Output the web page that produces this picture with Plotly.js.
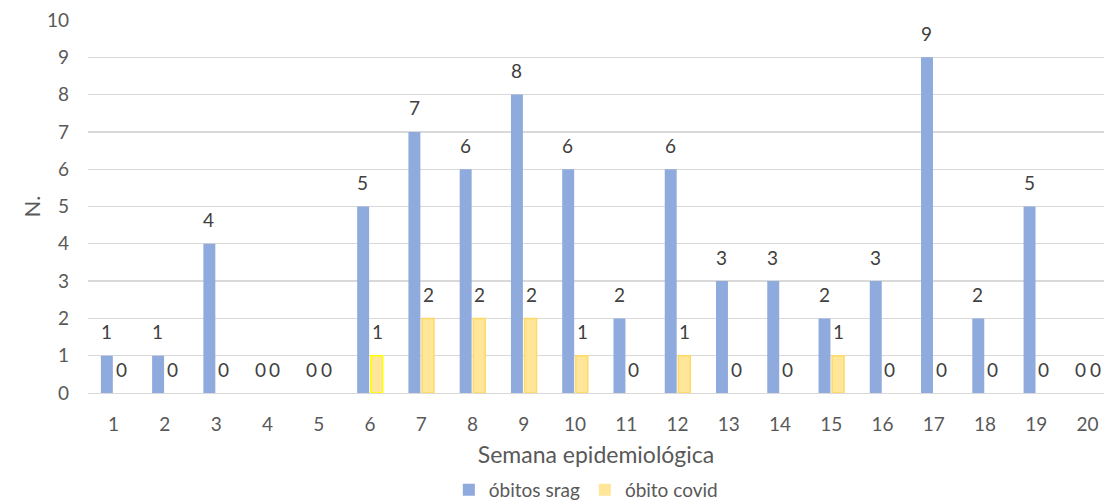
<!DOCTYPE html>
<html>
<head>
<meta charset="utf-8">
<script src="https://cdn.plot.ly/plotly-3.0.1.min.js"></script>
<style>html,body{margin:0;padding:0;background:#fff;}#chart{width:1104px;height:504px;}</style>
</head>
<body>
<div id="chart"></div>
<script>
var semanas = ['1','2','3','4','5','6','7','8','9','10','11','12','13','14','15','16','17','18','19','20'];
var obitosSrag = [1,1,4,0,0,5,7,6,8,6,2,6,3,3,2,3,9,2,5,0];
var obitoCovid = [0,0,0,0,0,1,2,2,2,1,0,1,0,0,1,0,0,0,0,0];
var yTicks = [0,1,2,3,4,5,6,7,8,9,10];

var FONT = 'Lato, Open Sans, sans-serif';
var covidBorder = obitoCovid.map(function(v, i){ return i === 5 ? '#FFFF00' : '#FFD966'; });
var covidBorderW = obitoCovid.map(function(v){ return v > 0 ? 1.5 : 0; });

var traces = [
  {
    type: 'bar', name: 'óbitos srag', x: semanas, y: obitosSrag,
    marker: {color: '#8FAADC', line: {width: 0}},
    hoverinfo: 'x+y'
  },
  {
    type: 'bar', name: 'óbito covid', x: semanas, y: obitoCovid,
    marker: {color: '#FFE699', line: {width: covidBorderW, color: covidBorder}},
    hoverinfo: 'x+y'
  }
];

// value labels above each bar, taken from the series arrays (x = category index)
var annotations = [];
function addLabels(values, shift) {
  values.forEach(function(v, i){
    annotations.push({
      x: i, y: v, xref: 'x', yref: 'y', text: String(v),
      showarrow: false, xanchor: 'center', yanchor: 'middle',
      xshift: shift, yshift: 24,
      font: {family: FONT, size: 19, color: '#404040'}
    });
  });
}
addLabels(obitosSrag, -7.2);
addLabels(obitoCovid, 7.4);

var layout = {
  width: 1104, height: 504,
  margin: {l: 88, r: 0, t: 20, b: 111, pad: 0, autoexpand: false},
  paper_bgcolor: '#fff', plot_bgcolor: '#fff',
  font: {family: FONT, color: '#595959', size: 19},
  barmode: 'group', bargap: 0.47, bargroupgap: 0.12,
  showlegend: true,
  legend: {orientation: 'h', x: 0.49, xanchor: 'center', xref: 'paper',
           y: 0.028, yanchor: 'middle', yref: 'container',
           font: {family: FONT, size: 19, color: '#595959'}, itemwidth: 30, tracegroupgap: 0},
  annotations: annotations,
  xaxis: {
    type: 'category', range: [-0.5, 19.32], automargin: false,
    showgrid: false, zeroline: false, showline: true, linecolor: '#D9D9D9', linewidth: 1.3,
    ticks: '', tickfont: {family: FONT, size: 19, color: '#595959'}, ticklabelstandoff: 14,
    title: {text: 'Semana epidemiológica', font: {family: FONT, size: 23, color: '#595959'}, standoff: 12},
    fixedrange: true
  },
  yaxis: {
    range: [0, 10], tickvals: yTicks, ticktext: yTicks.map(String), automargin: false,
    showgrid: true, gridcolor: '#D9D9D9', gridwidth: 1.3,
    zeroline: false, showline: false, ticks: '',
    tickfont: {family: FONT, size: 19, color: '#595959'}, ticklabelstandoff: 18,
    title: {text: 'N.', font: {family: FONT, size: 22, color: '#595959'}, standoff: 0},
    fixedrange: true
  }
};

Plotly.newPlot('chart', traces, layout, {displayModeBar: false, staticPlot: true});
</script>
</body>
</html>
